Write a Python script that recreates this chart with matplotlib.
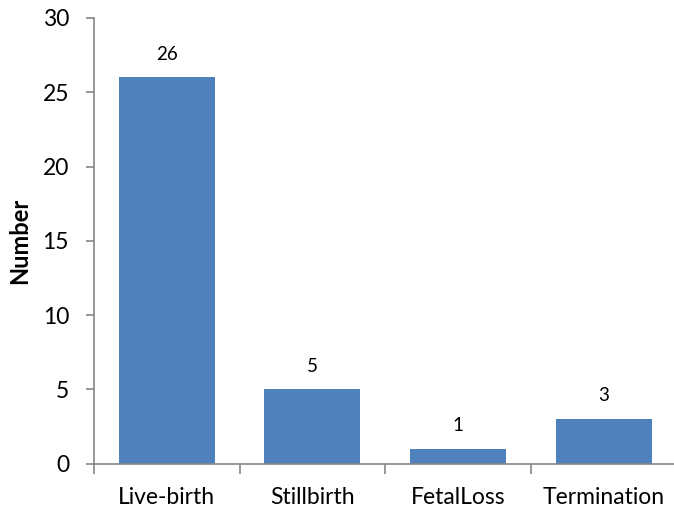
import numpy as np
import matplotlib.pyplot as plt
from matplotlib import rc

rc('font', **{'family': ['Lato', 'DejaVu Sans'], 'size': 16.5})

categories = ['Live-birth', 'Stillbirth', 'FetalLoss', 'Termination']
counts = [26, 5, 1, 3]

axis_grey = '#868686'
bar_blue = '#4F81BD'

fig = plt.figure(figsize=(6.74, 5.14), dpi=100)
ax = fig.add_axes([0.1395, 0.098, 0.864, 0.867])

x = np.arange(len(categories))
ax.bar(x, counts, width=0.66, color=bar_blue, zorder=2)

for xi, c in zip(x, counts):
    ax.text(xi, c + 1.0, str(c), ha='center', va='bottom', fontsize=13.5)

ax.set_xlim(-0.5, 3.5)
ax.set_ylim(0, 30)
ax.set_yticks(np.arange(0, 31, 5))
ax.set_xticks(x)
ax.set_xticklabels(categories)
ax.set_xticks(np.arange(-0.5, 3.51, 1.0), minor=True)

ax.tick_params(axis='x', which='major', length=0, pad=17)
ax.tick_params(axis='x', which='minor', length=7, color=axis_grey, width=1.2)
ax.tick_params(axis='y', length=6, color=axis_grey, width=1.2, pad=12)

for side in ['top', 'right']:
    ax.spines[side].set_visible(False)
for side in ['left', 'bottom']:
    ax.spines[side].set_color(axis_grey)
    ax.spines[side].set_linewidth(1.2)

ax.set_ylabel('Number', fontsize=17, fontweight='bold', labelpad=8)

plt.savefig('out.png', dpi=100)
